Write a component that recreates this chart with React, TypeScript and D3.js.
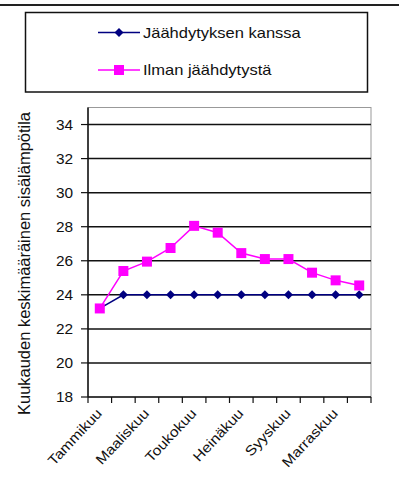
import React from "react";
import * as d3 from "d3";

// Monthly mean indoor temperature, with and without cooling
const months = [
  "Tammikuu", "Helmikuu", "Maaliskuu", "Huhtikuu", "Toukokuu", "Kesäkuu",
  "Heinäkuu", "Elokuu", "Syyskuu", "Lokakuu", "Marraskuu", "Joulukuu",
];
const withCooling = [23.2, 24, 24, 24, 24, 24, 24, 24, 24, 24, 24, 24];
const withoutCooling = [23.2, 25.4, 25.95, 26.75, 28.05, 27.65, 26.45, 26.1, 26.1, 25.3, 24.85, 24.55];
const yTicks = [18, 20, 22, 24, 26, 28, 30, 32, 34];
const seriesNames = ["Jäähdytyksen kanssa", "Ilman jäähdytystä"];
const yTitle = "Kuukauden keskimääräinen sisälämpötila";

const W = 399;
const H = 484;
const plot = { left: 88, right: 371, top: 107.5, bottom: 397 };
const BLUE = "#000080";
const PINK = "#FF00FF";
const FONT = "'Liberation Sans', Arial, sans-serif";
const TEXT = "#111";

const diamond = (s: number) => `M0,${-s}L${s},0L0,${s}L${-s},0Z`;
const square = (s: number) => `M${-s},${-s}H${s}V${s}H${-s}Z`;

export default function App() {
  const x = d3.scaleBand<string>().domain(months).range([plot.left, plot.right]).paddingInner(0).paddingOuter(0);
  const y = d3.scaleLinear().domain([18, 35]).range([plot.bottom, plot.top]);
  const cx = (i: number) => (x(months[i]) as number) + x.bandwidth() / 2;
  const line = d3.line<number>().x((_, i) => cx(i)).y((v) => y(v));
  const boundaries = months.map((m) => x(m) as number).concat([plot.right]);

  return (
    <svg width={W} height={H} style={{ position: "absolute", left: 0, top: 0, background: "#fff" }}>
      <rect x={0} y={0} width={W} height={H} fill="#fff" />
      {/* header rule */}
      <line x1={0} x2={W} y1={5} y2={5} stroke="#222" strokeWidth={2} />

      {/* legend */}
      <rect x={25.5} y={12.5} width={342} height={79.5} fill="#fff" stroke="#111" strokeWidth={1.5} />
      {[0, 1].map((k) => {
        const ly = k === 0 ? 32.5 : 70;
        const color = k === 0 ? BLUE : PINK;
        return (
          <g key={k}>
            <line x1={98} x2={140} y1={ly} y2={ly} stroke={color} strokeWidth={1.5} />
            <path d={k === 0 ? diamond(4.5) : square(5)} transform={`translate(119,${ly})`} fill={color} />
            <text
              transform={`translate(143,${ly + 5}) scale(1.18,1)`}
              fontFamily={FONT}
              fontSize={14}
              fill={TEXT}
            >
              {seriesNames[k]}
            </text>
          </g>
        );
      })}

      {/* plot frame */}
      <rect
        x={plot.left}
        y={plot.top}
        width={plot.right - plot.left}
        height={plot.bottom - plot.top}
        fill="#fff"
        stroke="#999"
        strokeWidth={1}
      />

      {/* gridlines and y ticks */}
      {yTicks.map((t) => (
        <g key={t}>
          {t > 18 && (
            <line x1={plot.left} x2={plot.right} y1={y(t)} y2={y(t)} stroke="#111" strokeWidth={1.5} />
          )}
          <line x1={plot.left - 7} x2={plot.left} y1={y(t)} y2={y(t)} stroke="#111" strokeWidth={1.2} />
          <text
            transform={`translate(73,${y(t) + 5}) scale(1.1,1)`}
            textAnchor="end"
            fontFamily={FONT}
            fontSize={14}
            fill={TEXT}
          >
            {t}
          </text>
        </g>
      ))}

      {/* axes */}
      <line x1={plot.left} x2={plot.left} y1={plot.top} y2={plot.bottom} stroke="#111" strokeWidth={1.5} />
      <line x1={plot.left} x2={plot.right} y1={plot.bottom} y2={plot.bottom} stroke="#111" strokeWidth={1.5} />
      {boundaries.map((bx, i) => (
        <line key={i} x1={bx} x2={bx} y1={plot.bottom} y2={plot.bottom + 6} stroke="#111" strokeWidth={1.2} />
      ))}

      {/* x labels, every other month */}
      {months.map((m, i) =>
        i % 2 === 0 ? (
          <text
            key={m}
            transform={`translate(${cx(i) + 3},${plot.bottom + 17}) rotate(-47) scale(1.12,1)`}
            textAnchor="end"
            fontFamily={FONT}
            fontSize={14}
            fill={TEXT}
          >
            {m}
          </text>
        ) : null
      )}

      {/* y title */}
      <text
        transform={`translate(30,263.5) rotate(-90)`}
        textAnchor="middle"
        fontFamily={FONT}
        fontSize={16}
        textLength={303}
        lengthAdjust="spacingAndGlyphs"
        fill={TEXT}
      >
        {yTitle}
      </text>

      {/* series: with cooling */}
      <path d={line(withCooling) as string} fill="none" stroke={BLUE} strokeWidth={1.5} />
      {withCooling.map((v, i) => (
        <path key={i} d={diamond(4.5)} transform={`translate(${cx(i)},${y(v)})`} fill={BLUE} />
      ))}

      {/* series: without cooling */}
      <path d={line(withoutCooling) as string} fill="none" stroke={PINK} strokeWidth={1.5} />
      {withoutCooling.map((v, i) => (
        <path key={i} d={square(5)} transform={`translate(${cx(i)},${y(v)})`} fill={PINK} />
      ))}
    </svg>
  );
}
